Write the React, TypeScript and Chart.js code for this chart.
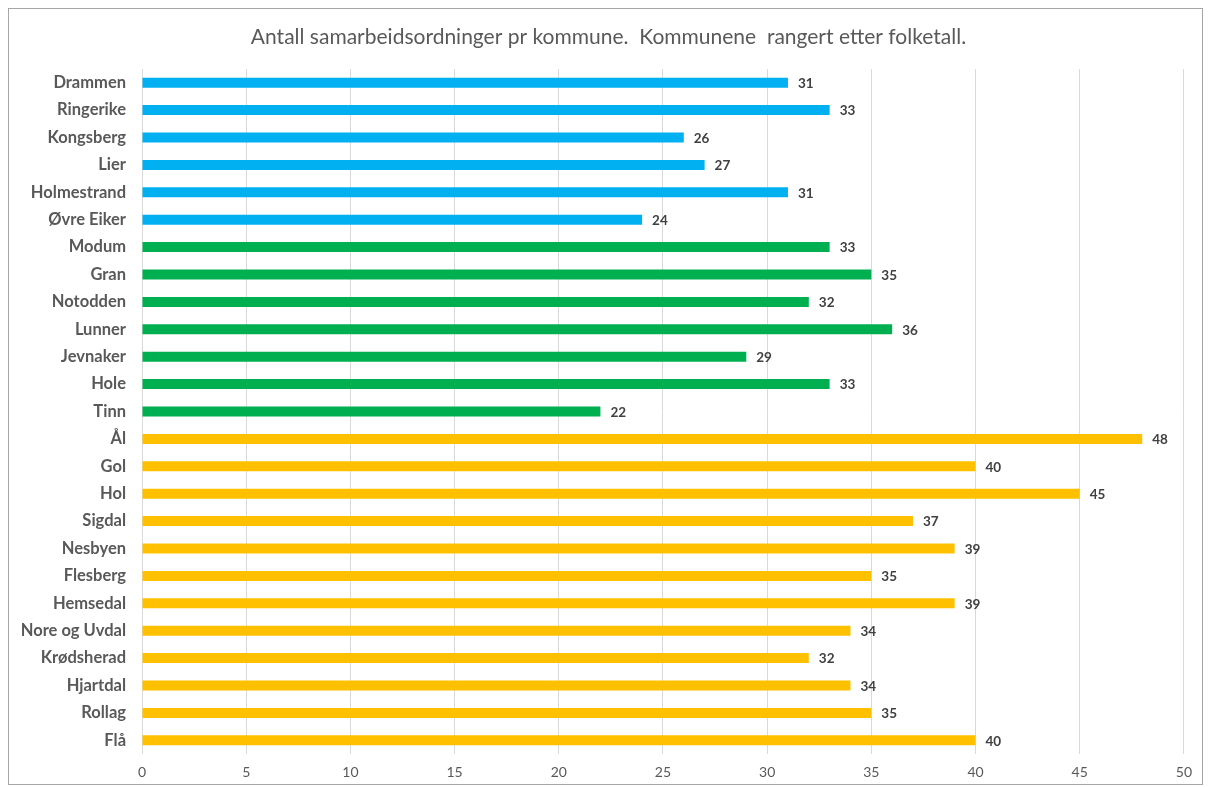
import React, { useEffect, useRef } from "react";
import { Chart, registerables } from "chart.js";

Chart.register(...registerables);

const kommuner = [
  "Drammen", "Ringerike", "Kongsberg", "Lier", "Holmestrand", "Øvre Eiker",
  "Modum", "Gran", "Notodden", "Lunner", "Jevnaker", "Hole", "Tinn",
  "Ål", "Gol", "Hol", "Sigdal", "Nesbyen", "Flesberg", "Hemsedal",
  "Nore og Uvdal", "Krødsherad", "Hjartdal", "Rollag", "Flå",
];
const antall = [31, 33, 26, 27, 31, 24, 33, 35, 32, 36, 29, 33, 22, 48, 40, 45, 37, 39, 35, 39, 34, 32, 34, 35, 40];
const grupper = [
  "a", "a", "a", "a", "a", "a",
  "b", "b", "b", "b", "b", "b", "b",
  "c", "c", "c", "c", "c", "c", "c", "c", "c", "c", "c", "c",
];
const gruppeFarger: Record<string, string> = { a: "#00B0F0", b: "#00B050", c: "#FFC000" };
const tittel = "Antall samarbeidsordninger pr kommune.  Kommunene  rangert etter folketall.";
const xMin = 0;
const xMax = 50;
const xStep = 5;

const FONT = "Lato, 'Open Sans', sans-serif";

const valueLabels = {
  id: "valueLabels",
  afterDatasetsDraw(chart: any) {
    const ctx = chart.ctx;
    const meta = chart.getDatasetMeta(0);
    ctx.save();
    ctx.font = `bold 13.5px ${FONT}`;
    ctx.fillStyle = "#404040";
    ctx.textBaseline = "middle";
    ctx.textAlign = "left";
    meta.data.forEach((bar: any, i: number) => {
      const v = chart.data.datasets[0].data[i];
      ctx.fillText(String(v), bar.x + 10, bar.y + 1);
    });
    ctx.restore();
  },
};

const titleDraw = {
  id: "titleDraw",
  afterDraw(chart: any) {
    const ctx = chart.ctx;
    ctx.save();
    ctx.font = `normal 21px ${FONT}`;
    ctx.fillStyle = "#595959";
    ctx.textBaseline = "middle";
    ctx.textAlign = "center";
    ctx.fillText(tittel, 599.5, 28);
    ctx.restore();
  },
};

export default function App() {
  const ref = useRef<HTMLCanvasElement>(null);
  useEffect(() => {
    if (!ref.current) return;
    const chart = new Chart(ref.current, {
      type: "bar",
      data: {
        labels: kommuner,
        datasets: [
          {
            data: antall,
            backgroundColor: grupper.map((g) => gruppeFarger[g]),
            barPercentage: 0.365,
            categoryPercentage: 1,
          },
        ],
      },
      options: {
        indexAxis: "y",
        animation: false,
        responsive: true,
        maintainAspectRatio: false,
        layout: { padding: { left: 0, right: 18, top: 60, bottom: 0 } },
        plugins: {
          legend: { display: false },
          tooltip: { enabled: false },
          title: { display: false },
        },
        scales: {
          x: {
            min: xMin,
            max: xMax,
            ticks: {
              stepSize: xStep,
              color: "#595959",
              font: { family: FONT, size: 14 },
              padding: 10,
            },
            grid: { color: "#D9D9D9", drawTicks: false },
            border: { display: false },
            afterFit: (s: any) => { s.height = 30; },
          },
          y: {
            ticks: {
              color: "#595959",
              font: { family: FONT, size: 16.5, weight: "bold" },
              padding: 16,
              autoSkip: false,
            },
            grid: { display: false, drawTicks: false },
            border: { display: false },
            afterFit: (s: any) => { s.width = 133; },
          },
        },
      },
      plugins: [valueLabels, titleDraw],
    });
    return () => chart.destroy();
  }, []);
  return (
    <div
      style={{
        width: 1195,
        height: 777,
        border: "1px solid #A6A6A6",
        boxSizing: "border-box",
        background: "#fff",
      }}
    >
      <div style={{ position: "relative", width: 1193, height: 775 }}>
        <canvas ref={ref} />
      </div>
    </div>
  );
}
